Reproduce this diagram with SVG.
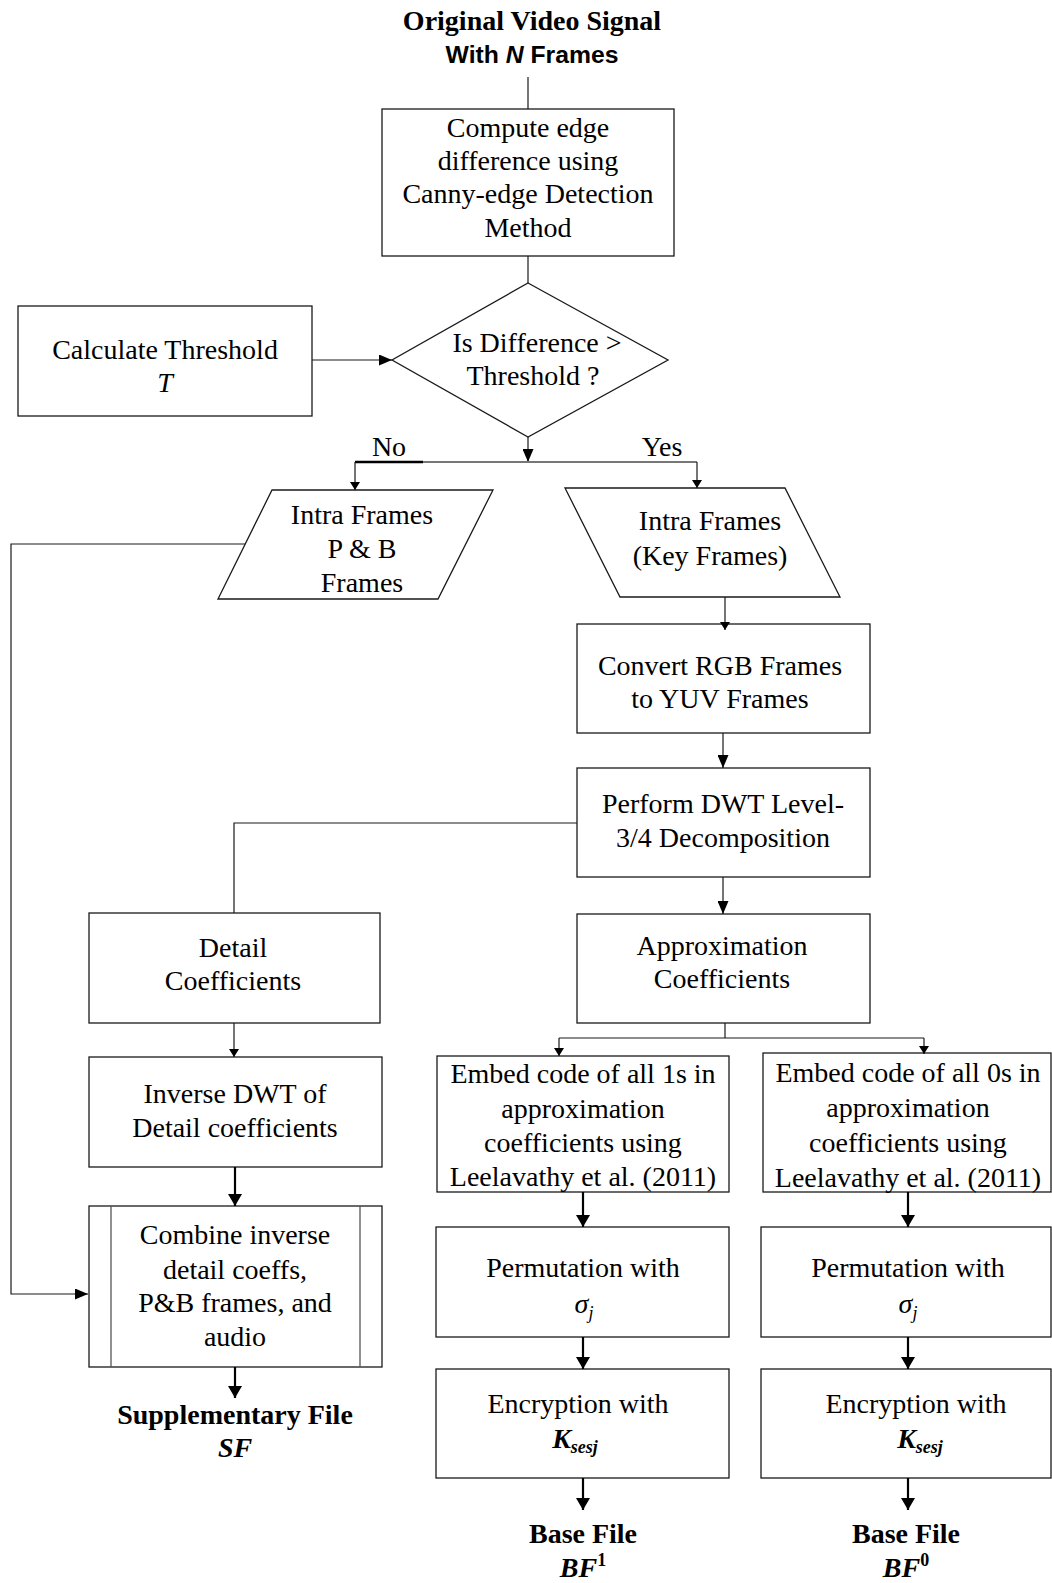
<svg xmlns="http://www.w3.org/2000/svg" width="1052" height="1583" viewBox="0 0 1052 1583">
  <style>
    .box { fill: #fff; stroke: #1a1a1a; stroke-width: 1.3; }
    .inner { stroke: #555; stroke-width: 1.3; fill: none; }
    .t { font-family: "Liberation Serif", "Times New Roman", serif; font-size: 28px; fill: #000; text-anchor: middle; }
    .b { font-weight: bold; }
    .i { font-style: italic; }
    .ln { fill: none; stroke: #1a1a1a; stroke-width: 1.2; }
    .thick { fill: none; stroke: #000; stroke-width: 2.2; }
    .sm { marker-end: url(#ah-s); }
    .md { marker-end: url(#ah-m); }
    .lg { marker-end: url(#ah-l); }
  </style>
  <defs>
    <marker id="ah-s" markerUnits="userSpaceOnUse" viewBox="0 0 8 10" refX="8" refY="5" markerWidth="8" markerHeight="10" orient="auto">
      <path d="M0,0 L8,5 L0,10 z" fill="#000"/>
    </marker>
    <marker id="ah-m" markerUnits="userSpaceOnUse" viewBox="0 0 13 11" refX="13" refY="5.5" markerWidth="13" markerHeight="11" orient="auto">
      <path d="M0,0 L13,5.5 L0,11 z" fill="#000"/>
    </marker>
    <marker id="ah-l" markerUnits="userSpaceOnUse" viewBox="0 0 12 14" refX="12" refY="7" markerWidth="12" markerHeight="14" orient="auto">
      <path d="M0,0 L12,7 L0,14 z" fill="#000"/>
    </marker>
  </defs>

  <rect width="1052" height="1583" fill="#fff"/>

  <!-- input -->
  <g id="source">
    <text class="t b" x="532" y="30">Original Video Signal</text>
    <text x="532" y="63" font-family="'Liberation Sans', Arial, sans-serif" font-size="23" font-weight="bold" text-anchor="middle" textLength="173" lengthAdjust="spacingAndGlyphs">With <tspan font-style="italic">N</tspan> Frames</text>
  </g>

  <g id="edge-diff">
    <rect class="box" x="382" y="109" width="292" height="147"/>
    <text class="t" x="528" y="137">Compute edge</text>
    <text class="t" x="528" y="170">difference using</text>
    <text class="t" x="528" y="203">Canny-edge Detection</text>
    <text class="t" x="528" y="237">Method</text>
  </g>

  <g id="threshold">
    <rect class="box" x="18" y="306" width="294" height="110"/>
    <text class="t" x="165" y="359">Calculate Threshold</text>
    <text class="t i" x="165" y="392">T</text>
  </g>

  <g id="decision">
    <polygon class="box" points="528,283 668,360 528,437 392,360"/>
    <text class="t" x="537" y="352">Is Difference &gt;</text>
    <text class="t" x="533" y="385">Threshold ?</text>
    <text class="t" x="389" y="456">No</text>
    <text class="t" x="662" y="456">Yes</text>
  </g>

  <g id="pb-frames">
    <polygon class="box" points="272,490 493,490 438,599 218,599"/>
    <text class="t" x="362" y="524">Intra Frames</text>
    <text class="t" x="362" y="558">P &amp; B</text>
    <text class="t" x="362" y="592">Frames</text>
  </g>

  <g id="key-frames">
    <polygon class="box" points="565,488 785,488 840,597 620,597"/>
    <text class="t" x="710" y="530">Intra Frames</text>
    <text class="t" x="710" y="565">(Key Frames)</text>
  </g>

  <g id="rgb-yuv">
    <rect class="box" x="577" y="624" width="293" height="109"/>
    <text class="t" x="720" y="675">Convert RGB Frames</text>
    <text class="t" x="720" y="708">to YUV Frames</text>
  </g>

  <g id="dwt">
    <rect class="box" x="577" y="768" width="293" height="109"/>
    <text class="t" x="723" y="813">Perform DWT Level-</text>
    <text class="t" x="723" y="847">3/4 Decomposition</text>
  </g>

  <g id="detail">
    <rect class="box" x="89" y="913" width="291" height="110"/>
    <text class="t" x="233" y="957">Detail</text>
    <text class="t" x="233" y="990">Coefficients</text>
  </g>

  <g id="approx">
    <rect class="box" x="577" y="914" width="293" height="109"/>
    <text class="t" x="722" y="955">Approximation</text>
    <text class="t" x="722" y="988">Coefficients</text>
  </g>

  <g id="inverse-dwt">
    <rect class="box" x="89" y="1057" width="293" height="110"/>
    <text class="t" x="235" y="1103">Inverse DWT of</text>
    <text class="t" x="235" y="1137">Detail coefficients</text>
  </g>

  <g id="combine">
    <rect class="box" x="89" y="1206" width="293" height="161"/>
    <line class="inner" x1="111" y1="1206" x2="111" y2="1367"/>
    <line class="inner" x1="360" y1="1206" x2="360" y2="1367"/>
    <text class="t" x="235" y="1244">Combine inverse</text>
    <text class="t" x="235" y="1279">detail coeffs,</text>
    <text class="t" x="235" y="1312">P&amp;B frames, and</text>
    <text class="t" x="235" y="1346">audio</text>
  </g>

  <g id="supplementary">
    <text class="t b" x="235" y="1424">Supplementary File</text>
    <text class="t b i" x="235" y="1457">SF</text>
  </g>

  <g id="embed-ones">
    <rect class="box" x="437" y="1056" width="292" height="136"/>
    <text class="t" x="583" y="1083">Embed code of all 1s in</text>
    <text class="t" x="583" y="1118">approximation</text>
    <text class="t" x="583" y="1152">coefficients using</text>
    <text class="t" x="583" y="1186">Leelavathy et al. (2011)</text>
  </g>

  <g id="embed-zeros">
    <rect class="box" x="763" y="1053" width="288" height="139"/>
    <text class="t" x="908" y="1082">Embed code of all 0s in</text>
    <text class="t" x="908" y="1117">approximation</text>
    <text class="t" x="908" y="1152">coefficients using</text>
    <text class="t" x="908" y="1187">Leelavathy et al. (2011)</text>
  </g>

  <g id="permute-ones">
    <rect class="box" x="436" y="1227" width="293" height="110"/>
    <text class="t" x="583" y="1277">Permutation with</text>
    <text class="t i" x="584" y="1313">σ<tspan font-size="18" dy="6">j</tspan></text>
  </g>

  <g id="permute-zeros">
    <rect class="box" x="761" y="1227" width="290" height="110"/>
    <text class="t" x="908" y="1277">Permutation with</text>
    <text class="t i" x="908" y="1313">σ<tspan font-size="18" dy="6">j</tspan></text>
  </g>

  <g id="encrypt-ones">
    <rect class="box" x="436" y="1369" width="293" height="109"/>
    <text class="t" x="578" y="1413">Encryption with</text>
    <text class="t b i" x="575" y="1448">K<tspan font-size="18" dy="5">sesj</tspan></text>
  </g>

  <g id="encrypt-zeros">
    <rect class="box" x="761" y="1369" width="290" height="109"/>
    <text class="t" x="916" y="1413">Encryption with</text>
    <text class="t b i" x="920" y="1448">K<tspan font-size="18" dy="5">sesj</tspan></text>
  </g>

  <g id="base-one">
    <text class="t b" x="583" y="1543">Base File</text>
    <text class="t b i" x="583" y="1577">BF<tspan font-size="18" font-style="normal" dy="-11">1</tspan></text>
  </g>

  <g id="base-zero">
    <text class="t b" x="906" y="1543">Base File</text>
    <text class="t b i" x="906" y="1577">BF<tspan font-size="18" font-style="normal" dy="-11">0</tspan></text>
  </g>

  <!-- connectors, drawn over the shapes so arrow tips stay visible -->
  <g id="connectors">
    <line class="ln" x1="528" y1="77" x2="528" y2="109"/>
    <line class="ln" x1="528" y1="256" x2="528" y2="283"/>
    <line class="ln md" x1="312" y1="360" x2="392" y2="360"/>
    <line class="ln md" x1="528" y1="437" x2="528" y2="462"/>
    <line x1="423" y1="462" x2="697" y2="462" stroke="#777" stroke-width="1.8"/>
    <line x1="355" y1="462" x2="423" y2="462" stroke="#000" stroke-width="2.4"/>
    <line class="ln sm" x1="355" y1="462" x2="355" y2="490"/>
    <line class="ln sm" x1="697" y1="462" x2="697" y2="488"/>
    <line class="ln sm" x1="725" y1="597" x2="725" y2="630"/>
    <line class="ln md" x1="723" y1="733" x2="723" y2="768"/>
    <line class="ln md" x1="723" y1="877" x2="723" y2="914"/>
    <polyline class="ln" points="577,823 234,823 234,913"/>
    <line class="ln sm" x1="234" y1="1023" x2="234" y2="1057"/>
    <line class="thick lg" x1="235" y1="1167" x2="235" y2="1206"/>
    <line class="thick lg" x1="235" y1="1367" x2="235" y2="1398"/>
    <polyline class="ln md" points="245,544 11,544 11,1294 88,1294"/>
    <line class="ln" x1="725" y1="1023" x2="725" y2="1038"/>
    <line class="ln" x1="559" y1="1038" x2="924" y2="1038"/>
    <line class="ln sm" x1="559" y1="1038" x2="559" y2="1056"/>
    <line class="ln sm" x1="924" y1="1038" x2="924" y2="1054"/>
    <line class="thick lg" x1="583" y1="1192" x2="583" y2="1227"/>
    <line class="thick lg" x1="908" y1="1192" x2="908" y2="1227"/>
    <line class="thick lg" x1="583" y1="1337" x2="583" y2="1369"/>
    <line class="thick lg" x1="908" y1="1337" x2="908" y2="1369"/>
    <line class="thick lg" x1="583" y1="1478" x2="583" y2="1510"/>
    <line class="thick lg" x1="908" y1="1478" x2="908" y2="1510"/>
  </g>
</svg>
